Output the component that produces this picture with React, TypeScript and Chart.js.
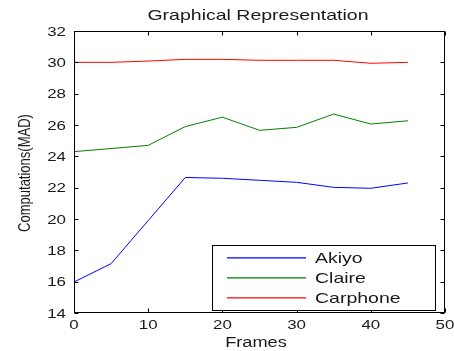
import React, { useEffect, useRef } from "react";
import { Chart, registerables } from "chart.js";

Chart.register(...registerables);

// ---- data ----
const frames = [0, 5, 10, 15, 20, 25, 30, 35, 40, 45];
const akiyo = [15.98, 17.15, 19.9, 22.65, 22.6, 22.47, 22.34, 22.02, 21.96, 22.3];
const claire = [24.3, 24.5, 24.7, 25.9, 26.5, 25.66, 25.85, 26.7, 26.06, 26.27];
const carphone = [30.0, 30.0, 30.08, 30.19, 30.19, 30.13, 30.13, 30.13, 29.94, 30.0];
const seriesNames = ["Akiyo", "Claire", "Carphone"];
const seriesColors = ["#0000ff", "#008000", "#ff0000"];
const xTicks = [0, 10, 20, 30, 40, 50];
const yTicks = [14, 16, 18, 20, 22, 24, 26, 28, 30, 32];
const titleText = "Graphical Representation";
const xLabel = "Frames";
const yLabel = "Computations(MAD)";

const FONT = '"Liberation Sans", Arial, sans-serif';
const SX = 1.3;
const TEXT = "#1a1a1a";

function stretchText(
  ctx: CanvasRenderingContext2D,
  text: string,
  x: number,
  y: number,
  size: number,
  align: "left" | "center" | "right"
) {
  ctx.save();
  ctx.font = `${size}px ${FONT}`;
  ctx.textBaseline = "alphabetic";
  ctx.textAlign = "left";
  const w = ctx.measureText(text).width * SX;
  const left = align === "center" ? x - w / 2 : align === "right" ? x - w : x;
  ctx.translate(left, y);
  ctx.scale(SX, 1);
  ctx.fillStyle = TEXT;
  ctx.fillText(text, 0, 0);
  ctx.restore();
}

const framePlugin = {
  id: "matlabFrame",
  afterDraw(chart: any) {
    const ctx: CanvasRenderingContext2D = chart.ctx;
    const { left, right, top, bottom } = chart.chartArea;
    const xs = chart.scales.x;
    const ys = chart.scales.y;
    ctx.save();
    ctx.strokeStyle = "#000";
    ctx.lineWidth = 1;
    // box
    ctx.strokeRect(left + 0.5, top + 0.5, right - left - 1, bottom - top - 1);
    // ticks (inward, all four sides)
    ctx.beginPath();
    xs.ticks.forEach((t: any) => {
      const px = Math.round(xs.getPixelForValue(t.value)) + 0.5;
      ctx.moveTo(px, bottom - 0.5);
      ctx.lineTo(px, bottom - 4.5);
      ctx.moveTo(px, top + 0.5);
      ctx.lineTo(px, top + 4.5);
    });
    ys.ticks.forEach((t: any) => {
      const py = Math.round(ys.getPixelForValue(t.value)) + 0.5;
      ctx.moveTo(left + 0.5, py);
      ctx.lineTo(left + 4.5, py);
      ctx.moveTo(right - 0.5, py);
      ctx.lineTo(right - 4.5, py);
    });
    ctx.stroke();
    // tick labels
    xs.ticks.forEach((t: any) => {
      const px = xs.getPixelForValue(t.value);
      stretchText(ctx, String(t.value), px, bottom + 16.3, 13, "center");
    });
    ys.ticks.forEach((t: any) => {
      const py = ys.getPixelForValue(t.value);
      stretchText(ctx, String(t.value), left - 8, py + 4.7, 13, "right");
    });
    // title
    stretchText(ctx, titleText, 258, 19.5, 15, "center");
    // x label
    stretchText(ctx, xLabel, 256, 347, 14, "center");
    // y label (rotated)
    ctx.save();
    ctx.translate(29.5, (top + bottom) / 2 + 1);
    ctx.rotate(-Math.PI / 2);
    ctx.scale(1, SX);
    ctx.font = `13px ${FONT}`;
    ctx.textAlign = "center";
    ctx.textBaseline = "alphabetic";
    ctx.fillStyle = TEXT;
    ctx.fillText(yLabel, 0, 0);
    ctx.restore();
    // legend
    const lx = right - 233;
    const ly = bottom - 68;
    const lw = 223;
    const lh = 65;
    ctx.fillStyle = "#fff";
    ctx.fillRect(lx, ly, lw, lh);
    ctx.strokeStyle = "#000";
    ctx.strokeRect(lx + 0.5, ly + 0.5, lw, lh);
    for (let i = 0; i < seriesNames.length; i++) {
      const rowY = ly + 12 + i * 20;
      ctx.save();
      ctx.strokeStyle = seriesColors[i];
      ctx.lineWidth = 1.2;
      ctx.beginPath();
      ctx.moveTo(lx + 15, rowY + 0.9);
      ctx.lineTo(lx + 94, rowY + 0.9);
      ctx.stroke();
      ctx.restore();
      stretchText(ctx, seriesNames[i], lx + 103, rowY + 5.5, 15, "left");
    }
    ctx.restore();
  },
};

export default function App() {
  const ref = useRef<HTMLCanvasElement | null>(null);
  useEffect(() => {
    if (!ref.current) return;
    const seriesValues = [akiyo, claire, carphone];
    const chart = new Chart(ref.current, {
      type: "line",
      data: {
        datasets: seriesValues.map((vals, i) => ({
          label: seriesNames[i],
          data: frames.map((f, j) => ({ x: f, y: vals[j] })),
          borderColor: seriesColors[i],
          backgroundColor: seriesColors[i],
          borderWidth: 1,
          pointRadius: 0,
          tension: 0,
          fill: false,
        })),
      },
      options: {
        animation: false,
        responsive: false,
        events: [],
        layout: { padding: { top: 31, right: 9, left: 0, bottom: 0 } },
        plugins: {
          legend: { display: false },
          title: { display: false },
          tooltip: { enabled: false },
        },
        scales: {
          x: {
            type: "linear",
            min: 0,
            max: 50,
            ticks: { display: false },
            grid: { display: false },
            border: { display: false },
            afterBuildTicks: (s: any) => {
              s.ticks = xTicks.map((v) => ({ value: v }));
            },
            afterFit: (s: any) => {
              s.height = 38;
              s.paddingLeft = 0;
              s.paddingRight = 0;
            },
          },
          y: {
            type: "linear",
            min: 14,
            max: 32,
            ticks: { display: false },
            grid: { display: false },
            border: { display: false },
            afterBuildTicks: (s: any) => {
              s.ticks = yTicks.map((v) => ({ value: v }));
            },
            afterFit: (s: any) => {
              s.width = 74;
              s.paddingTop = 0;
              s.paddingBottom = 0;
            },
          },
        },
      } as any,
      plugins: [framePlugin],
    });
    return () => chart.destroy();
  }, []);
  return (
    <div style={{ position: "absolute", left: 0, top: 0, width: 454, height: 351, background: "#fff" }}>
      <canvas ref={ref} width={454} height={351} style={{ display: "block" }} />
    </div>
  );
}
